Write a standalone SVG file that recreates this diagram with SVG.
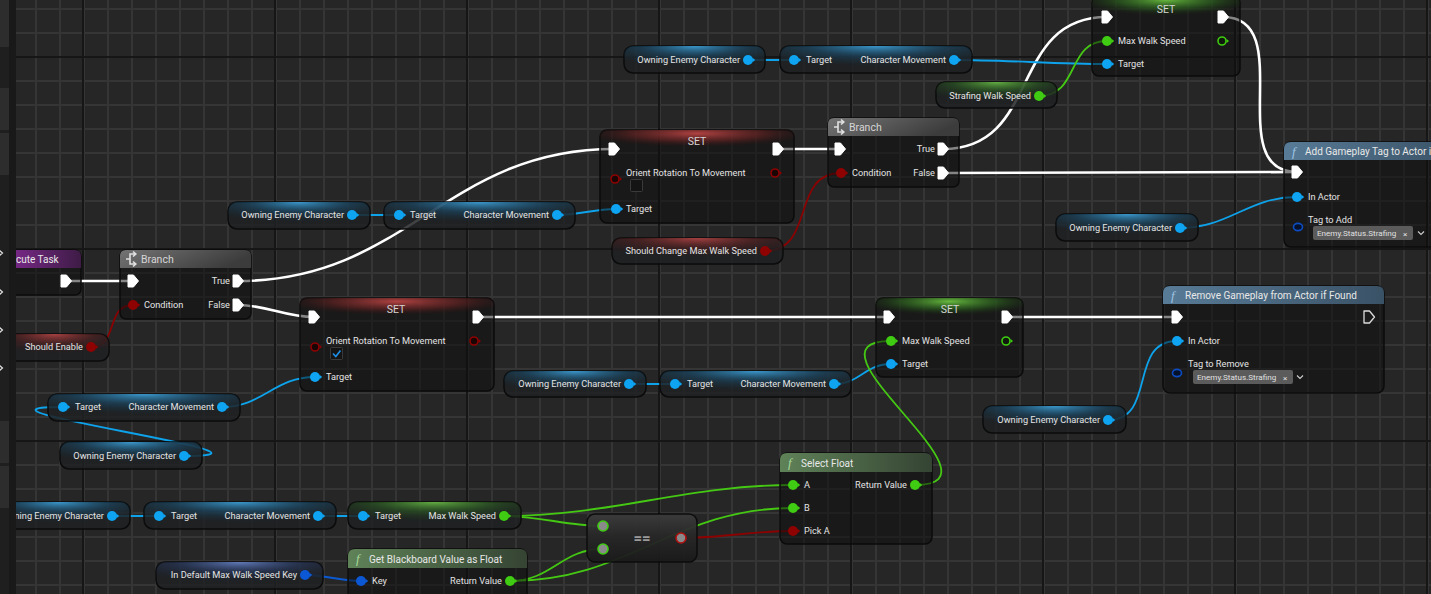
<svg xmlns="http://www.w3.org/2000/svg" xmlns:xlink="http://www.w3.org/1999/xlink" width="1431" height="594" viewBox="0 0 1431 594">
<defs>
<style>
.t{font-family:Roboto,"Liberation Sans",sans-serif;font-size:9.2px;fill:#e4e4e4}
.hd{font-family:Roboto,"Liberation Sans",sans-serif;font-size:10.5px;fill:#d6d6d6}
.hf{font-family:Roboto,"Liberation Sans",sans-serif;font-size:10px;fill:#e8e8e8}
.fi{font-family:"Liberation Serif",serif;font-style:italic;font-size:13px}
.tag{font-family:Roboto,"Liberation Sans",sans-serif;font-size:8.1px;fill:#e0e0e0}
.body{fill:rgba(12,12,12,0.5);stroke:#0b0b0b;stroke-width:1.5}
.pill{fill:rgba(30,33,35,0.85);stroke:#0b0b0b;stroke-width:1.5}
.ex{stroke:#ffffff;stroke-width:2.6;fill:none}
.wb{stroke:#0ea2ea;stroke-width:1.8;fill:none}
.wg{stroke:#44c813;stroke-width:1.8;fill:none}
.wr{stroke:#8a0202;stroke-width:1.8;fill:none}
.wk{stroke:#0c5ad2;stroke-width:1.8;fill:none}
.chk{fill:#141414;stroke:#3a3a3a;stroke-width:1}
.tp{fill:#5b5b5b}
</style>
<pattern id="minor" patternUnits="userSpaceOnUse" x="11" y="8" width="24" height="24">
<rect width="24" height="24" fill="#262626"/>
<rect x="0" y="0" width="2" height="24" fill="#353535"/>
<rect x="0" y="0" width="24" height="2" fill="#353535"/>
</pattern>
<pattern id="major" patternUnits="userSpaceOnUse" x="82" y="56" width="192" height="192">
<rect x="0" y="0" width="2" height="192" fill="#161616"/>
<rect x="0" y="0" width="192" height="2" fill="#161616"/>
</pattern>
<radialGradient id="gRed" cx="0.5" cy="0.15" r="0.6">
<stop offset="0" stop-color="#b84444" stop-opacity="0.95"/>
<stop offset="0.55" stop-color="#6e2424" stop-opacity="0.6"/>
<stop offset="1" stop-color="#301010" stop-opacity="0"/>
</radialGradient>
<radialGradient id="gGreen" cx="0.5" cy="0.15" r="0.6">
<stop offset="0" stop-color="#6ac040" stop-opacity="0.95"/>
<stop offset="0.55" stop-color="#2f6a20" stop-opacity="0.6"/>
<stop offset="1" stop-color="#183010" stop-opacity="0"/>
</radialGradient>
<linearGradient id="gBranch" x1="0" y1="0" x2="1" y2="0.3">
<stop offset="0" stop-color="#747474"/>
<stop offset="1" stop-color="#3c3c3c"/>
</linearGradient>
<linearGradient id="gFunc" x1="0" y1="0" x2="1" y2="0">
<stop offset="0" stop-color="#587b97"/>
<stop offset="1" stop-color="#3a5266"/>
</linearGradient>
<linearGradient id="gPure" x1="0" y1="0" x2="1" y2="0">
<stop offset="0" stop-color="#5f8258"/>
<stop offset="1" stop-color="#354433"/>
</linearGradient>
<linearGradient id="gEvent" x1="0" y1="0" x2="1" y2="0">
<stop offset="0" stop-color="#8a2c9c"/>
<stop offset="1" stop-color="#3e1c46"/>
</linearGradient>
<linearGradient id="gEq" x1="0" y1="0" x2="0" y2="1">
<stop offset="0" stop-color="#3c3c3c"/>
<stop offset="0.5" stop-color="#262626"/>
<stop offset="1" stop-color="#1a1a1a"/>
</linearGradient>
<radialGradient id="pBlue" cx="0.5" cy="0" r="0.75">
<stop offset="0" stop-color="#3fa6e0" stop-opacity="0.9"/>
<stop offset="0.5" stop-color="#1a5a82" stop-opacity="0.45"/>
<stop offset="1" stop-color="#10384f" stop-opacity="0"/>
</radialGradient>
<radialGradient id="pGreen" cx="0.5" cy="0" r="0.75">
<stop offset="0" stop-color="#6cc048" stop-opacity="0.9"/>
<stop offset="0.5" stop-color="#2e6a22" stop-opacity="0.45"/>
<stop offset="1" stop-color="#183a12" stop-opacity="0"/>
</radialGradient>
<radialGradient id="pRed" cx="0.5" cy="0" r="0.75">
<stop offset="0" stop-color="#b84646" stop-opacity="0.9"/>
<stop offset="0.5" stop-color="#6a2222" stop-opacity="0.45"/>
<stop offset="1" stop-color="#3a1010" stop-opacity="0"/>
</radialGradient>
<radialGradient id="pKey" cx="0.5" cy="0" r="0.75">
<stop offset="0" stop-color="#6a86cc" stop-opacity="0.9"/>
<stop offset="0.5" stop-color="#2e4478" stop-opacity="0.45"/>
<stop offset="1" stop-color="#1a2440" stop-opacity="0"/>
</radialGradient>
<g id="pB"><circle r="5" fill="#0ea4f2"/><path d="M4.5 -2.2 L7.2 0 L4.5 2.2Z" fill="#0ea4f2"/></g>
<g id="pG"><circle r="5" fill="#3fcc12"/><path d="M4.5 -2.2 L7.2 0 L4.5 2.2Z" fill="#3fcc12"/></g>
<g id="pR"><circle r="5" fill="#8e0202"/><path d="M4.5 -2.2 L7.2 0 L4.5 2.2Z" fill="#8e0202"/></g>
<g id="pK"><circle r="5" fill="#0c58d4"/><path d="M4.5 -2.2 L7.2 0 L4.5 2.2Z" fill="#0c58d4"/></g>
<g id="pRh"><circle r="4" fill="#1a0505" stroke="#8e0202" stroke-width="1.6"/><path d="M4.6 -2 L7 0 L4.6 2Z" fill="#8e0202"/></g>
<g id="pGh"><circle r="4" fill="#101a0c" stroke="#3fcc12" stroke-width="1.6"/><path d="M4.6 -2 L7 0 L4.6 2Z" fill="#3fcc12"/></g>
<g id="pKh"><ellipse rx="4.5" ry="3.6" fill="#05102a" stroke="#0c4cc0" stroke-width="1.6"/></g>
<g id="pEq"><circle r="5" fill="#8a8a8a" stroke="#3fcc12" stroke-width="1.6"/></g>
<g id="pEqR"><circle r="5" fill="#8a8a8a" stroke="#b01010" stroke-width="1.6"/></g>
<path id="ex" d="M-5 -6 H0.5 L5.5 0 L0.5 6 H-5 Z" fill="#ffffff" stroke="#ffffff" stroke-width="1" stroke-linejoin="round"/>
<path id="exh" d="M-5 -6 H0.5 L5.5 0 L0.5 6 H-5 Z" fill="none" stroke="#dcdcdc" stroke-width="1.3" stroke-linejoin="round"/>
<path id="bicon" d="M3 -5 H-2 V5 H3 M-6 0 H-2 M1 -7.5 L3.8 -5 L1 -2.5 M1 2.5 L3.8 5 L1 7.5" fill="none" stroke="#e0e0e0" stroke-width="1.6"/>
<path id="chev" d="M-3 -1.5 L0 1.5 L3 -1.5" fill="none" stroke="#cfcfcf" stroke-width="1.1"/>
</defs>

<g id="background">
<rect x="0" y="0" width="1431" height="594" fill="url(#minor)"/>
<rect x="0" y="0" width="1431" height="594" fill="url(#major)"/>
</g>

<g id="connectors">
<path class="ex" d="M66 281 L133 281"/>
<path class="ex" d="M238 281 C407 281 445 149 614 149"/>
<path class="ex" d="M238 305 C267 305 285 317 314 317"/>
<path class="ex" d="M478 317 L889 317"/>
<path class="ex" d="M1007 317 L1177 317"/>
<path class="ex" d="M778 149 L840 149"/>
<path class="ex" d="M943 149 C1042 149 1008 17 1107 17"/>
<path class="ex" d="M943 173 L1297 172"/>
<path class="ex" d="M1223 17 C1299 17 1221 172 1297 172"/>
<path class="wb" d="M748 60 L794 60"/>
<path class="wb" d="M954 60 C1006 60 1055 64 1107 64"/>
<path class="wb" d="M352 215 L399 215"/>
<path class="wb" d="M557 215 C579 215 594 209 616 209"/>
<path class="wb" d="M1180 228 C1229 228 1248 197 1297 197"/>
<path class="wb" d="M184 456 C314 456 -67 407 63 407"/>
<path class="wb" d="M222 407 C263 407 274 377 315 377"/>
<path class="wb" d="M629 384 L675 384"/>
<path class="wb" d="M834 384 C860 384 865 364 891 364"/>
<path class="wb" d="M1108 420 C1157 420 1128 341 1177 341"/>
<path class="wb" d="M112 516 L159 516"/>
<path class="wb" d="M318 516 L363 516"/>
<path class="wk" d="M305 575 C326 575 340 581 361 581"/>
<path class="wg" d="M1039 96 C1080 96 1066 41 1107 41"/>
<path class="wg" d="M504 516 C611 516 686 485 793 485"/>
<path class="wg" d="M504 516 C540 516 567 526 603 526"/>
<path class="wg" d="M510 581 C552 581 561 549 603 549"/>
<path class="wg" d="M510 581 C629 581 674 508 793 508"/>
<path class="wg" d="M915 485 C1015 485 791 341 891 341"/>
<path class="wr" d="M91 347 C119 347 105 305 133 305"/>
<path class="wr" d="M765 251 C816 251 790 173 841 173"/>
<path class="wr" d="M681 538 C721 538 753 531 793 531"/>
</g>

<g id="get-owning-1">
<rect class="pill" x="624" y="46" width="141" height="27" rx="9"/>
<rect x="624" y="46" width="141" height="27" rx="9" fill="url(#pBlue)"/>
<text class="t" x="740" y="63.3" text-anchor="end">Owning Enemy Character</text>
<use href="#pB" x="748" y="60"/>
</g>
<g id="charmove-1">
<rect class="pill" x="780" y="46" width="192" height="27" rx="9"/>
<rect x="780" y="46" width="192" height="27" rx="9" fill="url(#pBlue)"/>
<use href="#pB" x="794" y="60"/>
<text class="t" x="806" y="63.3">Target</text>
<text class="t" x="946" y="63.3" text-anchor="end">Character Movement</text>
<use href="#pB" x="954" y="60"/>
</g>
<g id="get-strafing">
<rect class="pill" x="936" y="82" width="121" height="26" rx="9"/>
<rect x="936" y="82" width="121" height="26" rx="9" fill="url(#pGreen)"/>
<text class="t" x="1031" y="99.3" text-anchor="end">Strafing Walk Speed</text>
<use href="#pG" x="1039" y="96"/>
</g>

<g id="set-top">
<rect class="body" x="1092" y="-4" width="148" height="80" rx="7"/>
<path d="M1092 22 V3 Q1092 -4 1099 -4 H1233 Q1240 -4 1240 3 V22 Z" fill="url(#gGreen)"/>
<text class="hd" x="1166" y="13" text-anchor="middle">SET</text>
<use href="#ex" x="1107" y="17"/>
<use href="#ex" x="1223" y="17"/>
<use href="#pG" x="1107" y="41"/>
<text class="t" x="1118" y="44.3">Max Walk Speed</text>
<use href="#pGh" x="1222" y="41"/>
<use href="#pB" x="1107" y="64"/>
<text class="t" x="1118" y="67.3">Target</text>
</g>

<g id="branch-top">
<rect class="body" x="828" y="118" width="131" height="69" rx="6"/>
<path d="M828 136 V124 Q828 118 834 118 H953 Q959 118 959 124 V136 Z" fill="url(#gBranch)"/>
<use href="#bicon" x="840" y="127"/>
<text class="hd" x="849" y="131">Branch</text>
<use href="#ex" x="840" y="149"/>
<text class="t" x="935" y="152.3" text-anchor="end">True</text>
<use href="#ex" x="943" y="149"/>
<use href="#pR" x="841" y="173"/>
<text class="t" x="852" y="176.3">Condition</text>
<text class="t" x="935" y="176.3" text-anchor="end">False</text>
<use href="#ex" x="943" y="173"/>
</g>

<g id="set-red-top">
<rect class="body" x="600" y="130" width="194" height="93" rx="7"/>
<path d="M600 153 V137 Q600 130 607 130 H787 Q794 130 794 137 V153 Z" fill="url(#gRed)"/>
<text class="hd" x="697" y="145" text-anchor="middle">SET</text>
<use href="#ex" x="614" y="149"/>
<use href="#ex" x="778" y="149"/>
<use href="#pRh" x="615" y="179"/>
<text class="t" x="626" y="176.3">Orient Rotation To Movement</text>
<use href="#pRh" x="775" y="173"/>
<rect class="chk" x="630.5" y="179.5" width="12" height="12" rx="1"/>
<use href="#pB" x="616" y="209"/>
<text class="t" x="626" y="212.3">Target</text>
</g>

<g id="get-owning-2">
<rect class="pill" x="228" y="202" width="142" height="27" rx="9"/>
<rect x="228" y="202" width="142" height="27" rx="9" fill="url(#pBlue)"/>
<text class="t" x="344" y="218.3" text-anchor="end">Owning Enemy Character</text>
<use href="#pB" x="352" y="215"/>
</g>
<g id="charmove-2">
<rect class="pill" x="384" y="202" width="191" height="27" rx="9"/>
<rect x="384" y="202" width="191" height="27" rx="9" fill="url(#pBlue)"/>
<use href="#pB" x="399" y="215"/>
<text class="t" x="410" y="218.3">Target</text>
<text class="t" x="549" y="218.3" text-anchor="end">Character Movement</text>
<use href="#pB" x="557" y="215"/>
</g>
<g id="get-should-change">
<rect class="pill" x="612" y="238" width="171" height="26" rx="9"/>
<rect x="612" y="238" width="171" height="26" rx="9" fill="url(#pRed)"/>
<text class="t" x="757" y="254.3" text-anchor="end">Should Change Max Walk Speed</text>
<use href="#pR" x="765" y="251"/>
</g>

<g id="add-tag">
<rect class="body" x="1284" y="142" width="170" height="105" rx="7"/>
<path d="M1284 160 V149 Q1284 142 1291 142 H1447 Q1454 142 1454 149 V160 Z" fill="url(#gFunc)"/>
<text class="fi" x="1292" y="156" fill="#9fc4e4">f</text>
<text class="hf" x="1305" y="155">Add Gameplay Tag to Actor i</text>
<use href="#ex" x="1297" y="172"/>
<use href="#pB" x="1297" y="197"/>
<text class="t" x="1308" y="200.3">In Actor</text>
<text class="t" x="1308" y="223">Tag to Add</text>
<use href="#pKh" x="1298" y="227"/>
<rect class="tp" x="1313" y="226" width="100" height="14" rx="2"/>
<text class="tag" x="1317" y="236">Enemy.Status.Strafing</text>
<text class="tag" x="1403" y="237" font-size="11">×</text>
<use href="#chev" x="1421" y="233"/>
</g>
<g id="get-owning-3">
<rect class="pill" x="1056" y="214" width="142" height="27" rx="9"/>
<rect x="1056" y="214" width="142" height="27" rx="9" fill="url(#pBlue)"/>
<text class="t" x="1172" y="231.3" text-anchor="end">Owning Enemy Character</text>
<use href="#pB" x="1180" y="228"/>
</g>

<g id="event">
<rect class="body" x="-10" y="250" width="91" height="45" rx="6"/>
<path d="M-10 268 V256 Q-10 250 -4 250 H75 Q81 250 81 256 V268 Z" fill="url(#gEvent)"/>
<text class="hf" x="16" y="263">cute Task</text>
<use href="#ex" x="66" y="281"/>
</g>

<g id="branch-low">
<rect class="body" x="120" y="250" width="131" height="69" rx="6"/>
<path d="M120 268 V256 Q120 250 126 250 H245 Q251 250 251 256 V268 Z" fill="url(#gBranch)"/>
<use href="#bicon" x="132" y="259"/>
<text class="hd" x="141" y="263">Branch</text>
<use href="#ex" x="133" y="281"/>
<text class="t" x="230" y="284.3" text-anchor="end">True</text>
<use href="#ex" x="238" y="281"/>
<use href="#pR" x="133" y="305"/>
<text class="t" x="144" y="308.3">Condition</text>
<text class="t" x="230" y="308.3" text-anchor="end">False</text>
<use href="#ex" x="238" y="305"/>
</g>

<g id="get-should-enable">
<rect class="pill" x="0" y="334" width="109" height="27" rx="9"/>
<rect x="0" y="334" width="109" height="27" rx="9" fill="url(#pRed)"/>
<text class="t" x="83" y="350.3" text-anchor="end">Should Enable</text>
<use href="#pR" x="91" y="347"/>
</g>

<g id="set-red-low">
<rect class="body" x="300" y="298" width="194" height="93" rx="7"/>
<path d="M300 321 V305 Q300 298 307 298 H487 Q494 298 494 305 V321 Z" fill="url(#gRed)"/>
<text class="hd" x="396" y="313" text-anchor="middle">SET</text>
<use href="#ex" x="314" y="317"/>
<use href="#ex" x="478" y="317"/>
<use href="#pRh" x="315" y="347"/>
<text class="t" x="326" y="344.3">Orient Rotation To Movement</text>
<use href="#pRh" x="474" y="341"/>
<rect class="chk" x="330.5" y="347.5" width="12" height="12" rx="1"/>
<path d="M333 353.5 L335.8 356.5 L340.5 350.5" fill="none" stroke="#1e8fe8" stroke-width="1.6"/>
<use href="#pB" x="315" y="377"/>
<text class="t" x="326" y="380.3">Target</text>
</g>

<g id="charmove-3">
<rect class="pill" x="48" y="394" width="192" height="27" rx="9"/>
<rect x="48" y="394" width="192" height="27" rx="9" fill="url(#pBlue)"/>
<use href="#pB" x="63" y="407"/>
<text class="t" x="75" y="410.3">Target</text>
<text class="t" x="214" y="410.3" text-anchor="end">Character Movement</text>
<use href="#pB" x="222" y="407"/>
</g>
<g id="get-owning-5">
<rect class="pill" x="60" y="442" width="142" height="27" rx="9"/>
<rect x="60" y="442" width="142" height="27" rx="9" fill="url(#pBlue)"/>
<text class="t" x="176" y="459.3" text-anchor="end">Owning Enemy Character</text>
<use href="#pB" x="184" y="456"/>
</g>

<g id="get-owning-4">
<rect class="pill" x="504" y="371" width="142" height="26" rx="9"/>
<rect x="504" y="371" width="142" height="26" rx="9" fill="url(#pBlue)"/>
<text class="t" x="621" y="387.3" text-anchor="end">Owning Enemy Character</text>
<use href="#pB" x="629" y="384"/>
</g>
<g id="charmove-4">
<rect class="pill" x="660" y="371" width="191" height="26" rx="9"/>
<rect x="660" y="371" width="191" height="26" rx="9" fill="url(#pBlue)"/>
<use href="#pB" x="675" y="384"/>
<text class="t" x="687" y="387.3">Target</text>
<text class="t" x="826" y="387.3" text-anchor="end">Character Movement</text>
<use href="#pB" x="834" y="384"/>
</g>

<g id="set-green-mid">
<rect class="body" x="876" y="298" width="147" height="79" rx="7"/>
<path d="M876 321 V305 Q876 298 883 298 H1016 Q1023 298 1023 305 V321 Z" fill="url(#gGreen)"/>
<text class="hd" x="950" y="313" text-anchor="middle">SET</text>
<use href="#ex" x="889" y="317"/>
<use href="#ex" x="1007" y="317"/>
<use href="#pG" x="891" y="341"/>
<text class="t" x="902" y="344.3">Max Walk Speed</text>
<use href="#pGh" x="1006" y="341"/>
<use href="#pB" x="891" y="364"/>
<text class="t" x="902" y="367.3">Target</text>
</g>

<g id="remove-tag">
<rect class="body" x="1163" y="286" width="221" height="107" rx="7"/>
<path d="M1163 304 V293 Q1163 286 1170 286 H1377 Q1384 286 1384 293 V304 Z" fill="url(#gFunc)"/>
<text class="fi" x="1171" y="300" fill="#9fc4e4">f</text>
<text class="hf" x="1185" y="299">Remove Gameplay from Actor if Found</text>
<use href="#ex" x="1177" y="317"/>
<use href="#exh" x="1369" y="317"/>
<use href="#pB" x="1177" y="341"/>
<text class="t" x="1188" y="344.3">In Actor</text>
<text class="t" x="1188" y="367">Tag to Remove</text>
<use href="#pKh" x="1177" y="373"/>
<rect class="tp" x="1193" y="370" width="100" height="14" rx="2"/>
<text class="tag" x="1197" y="380">Enemy.Status.Strafing</text>
<text class="tag" x="1283" y="381" font-size="11">×</text>
<use href="#chev" x="1300" y="377"/>
</g>
<g id="get-owning-6">
<rect class="pill" x="983" y="406" width="143" height="27" rx="9"/>
<rect x="983" y="406" width="143" height="27" rx="9" fill="url(#pBlue)"/>
<text class="t" x="1100" y="423.3" text-anchor="end">Owning Enemy Character</text>
<use href="#pB" x="1108" y="420"/>
</g>

<g id="select-float">
<rect class="body" x="780" y="453" width="152" height="91" rx="7"/>
<path d="M780 472 V460 Q780 453 787 453 H925 Q932 453 932 460 V472 Z" fill="url(#gPure)"/>
<text class="fi" x="788" y="467" fill="#a8d89a">f</text>
<text class="hf" x="801" y="467">Select Float</text>
<use href="#pG" x="793" y="485"/>
<text class="t" x="804" y="488.3">A</text>
<use href="#pG" x="793" y="508"/>
<text class="t" x="804" y="511.3">B</text>
<use href="#pR" x="793" y="531"/>
<text class="t" x="804" y="534.3">Pick A</text>
<text class="t" x="907" y="488.3" text-anchor="end">Return Value</text>
<use href="#pG" x="915" y="485"/>
</g>

<g id="equal">
<rect x="587" y="514" width="110" height="48" rx="8" fill="url(#gEq)" stroke="#0b0b0b" stroke-width="1.5" opacity="0.95"/>
<text x="642" y="543" text-anchor="middle" style="font-family:Roboto,'Liberation Sans',sans-serif;font-size:15px;font-weight:bold;fill:#9a9a9a">==</text>
<use href="#pEq" x="603" y="526"/>
<use href="#pEq" x="603" y="549"/>
<use href="#pEqR" x="681" y="538"/>
</g>

<g id="get-owning-7">
<rect class="pill" x="-12" y="502" width="142" height="27" rx="9"/>
<rect x="-12" y="502" width="142" height="27" rx="9" fill="url(#pBlue)"/>
<text class="t" x="104" y="519.3" text-anchor="end">ning Enemy Character</text>
<use href="#pB" x="112" y="516"/>
</g>
<g id="charmove-5">
<rect class="pill" x="144" y="502" width="192" height="27" rx="9"/>
<rect x="144" y="502" width="192" height="27" rx="9" fill="url(#pBlue)"/>
<use href="#pB" x="159" y="516"/>
<text class="t" x="171" y="519.3">Target</text>
<text class="t" x="310" y="519.3" text-anchor="end">Character Movement</text>
<use href="#pB" x="318" y="516"/>
</g>
<g id="maxwalk-get">
<rect class="pill" x="348" y="502" width="173" height="27" rx="9"/>
<rect x="348" y="502" width="173" height="27" rx="9" fill="url(#pGreen)"/>
<use href="#pB" x="363" y="516"/>
<text class="t" x="375" y="519.3">Target</text>
<text class="t" x="496" y="519.3" text-anchor="end">Max Walk Speed</text>
<use href="#pG" x="504" y="516"/>
</g>

<g id="get-key">
<rect class="pill" x="156" y="562" width="167" height="27" rx="9"/>
<rect x="156" y="562" width="167" height="27" rx="9" fill="url(#pKey)"/>
<text class="t" x="297" y="578.3" text-anchor="end">In Default Max Walk Speed Key</text>
<use href="#pK" x="305" y="575"/>
</g>
<g id="get-bb-float">
<rect class="body" x="348" y="549" width="179" height="60" rx="7"/>
<path d="M348 568 V556 Q348 549 355 549 H520 Q527 549 527 556 V568 Z" fill="url(#gPure)"/>
<text class="fi" x="356" y="563" fill="#a8d89a">f</text>
<text class="hf" x="369" y="563">Get Blackboard Value as Float</text>
<use href="#pK" x="361" y="581"/>
<text class="t" x="372" y="584.3">Key</text>
<text class="t" x="502" y="584.3" text-anchor="end">Return Value</text>
<use href="#pG" x="510" y="581"/>
</g>

<g id="left-panel">
<rect x="0" y="0" width="16" height="594" fill="#191919"/>
<rect x="0" y="0" width="9" height="594" fill="#1f1f1f"/>
<rect x="0" y="0" width="9" height="47" fill="#2d2d2d"/>
<rect x="0" y="88" width="9" height="42" fill="#2d2d2d"/>
<rect x="0" y="133" width="9" height="42" fill="#2d2d2d"/>
<rect x="0" y="421" width="9" height="42" fill="#2d2d2d"/>
<rect x="0" y="466" width="9" height="42" fill="#2d2d2d"/>
<path d="M-1 250 L2.5 253 L-1 256 M-1 289 L2.5 292 L-1 295 M-1 327 L2.5 330 L-1 333 M-1 365 L2.5 368 L-1 371" fill="none" stroke="#e0e0e0" stroke-width="1.2"/>
</g>
</svg>
